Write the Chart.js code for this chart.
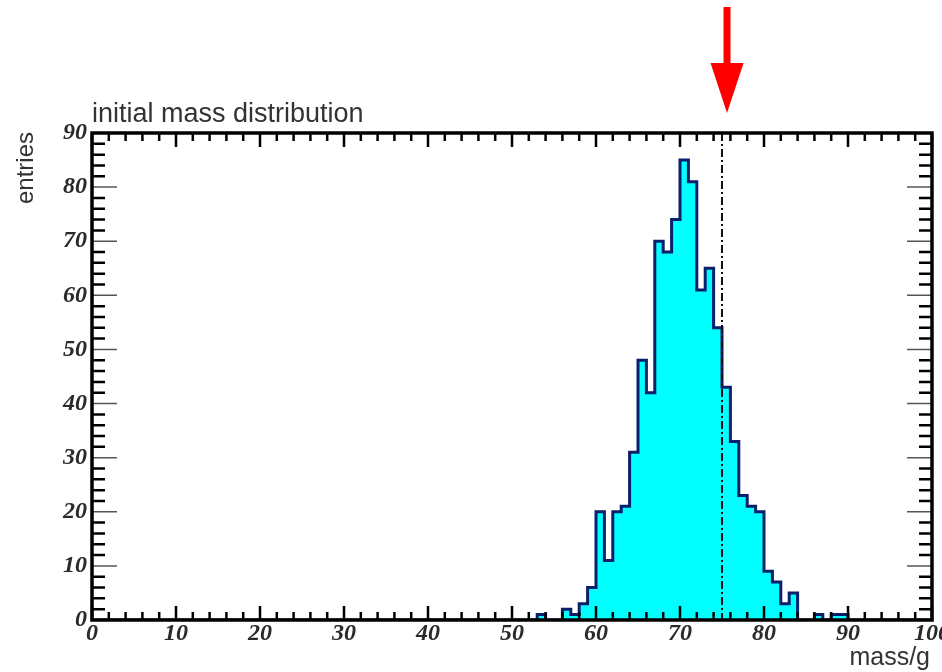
<!DOCTYPE html>
<html>
<head>
<meta charset="utf-8">
<script src="https://cdn.jsdelivr.net/npm/chart.js@4.4.1/dist/chart.umd.min.js"></script>
<style>
  body { margin: 0; background: #fff; }
  #wrap { width: 942px; height: 672px; }
</style>
</head>
<body>
<div id="wrap"><canvas id="mass-chart" width="942" height="672"></canvas></div>
<script>
// histogram bins (1 g wide, lower edge) and their entries
const massBins = [53, 54, 55, 56, 57, 58, 59, 60, 61, 62, 63, 64, 65, 66, 67, 68, 69, 70, 71, 72, 73, 74, 75, 76, 77, 78, 79, 80, 81, 82, 83, 84, 85, 86, 87, 88, 89];
const entries  = [ 1,  0,  0,  2,  1,  3,  6, 20, 11, 20, 21, 31, 48, 42, 70, 68, 74, 85, 81, 61, 65, 54, 43, 33, 23, 21, 20,  9,  7,  3,  5,  0,  0,  1,  0,  1,  1];

const xTicks = [0, 10, 20, 30, 40, 50, 60, 70, 80, 90, 100];
const yTicks = [0, 10, 20, 30, 40, 50, 60, 70, 80, 90];
const markerMass = 75;   // dash-dotted line
const arrowMass = 75.6;  // red arrow above the frame

const titleText = 'initial mass distribution';
const xTitle = 'mass/g';
const yTitle = 'entries';

// stepped outline points: left edge of each bin
const points = [{ x: 0, y: 0 }];
massBins.forEach((b, i) => points.push({ x: b, y: entries[i] }));
points.push({ x: massBins[massBins.length - 1] + 1, y: 0 });
points.push({ x: 100, y: 0 });

const rootFrame = {
    id: 'rootFrame',
    afterDatasetsDraw(chart) {
        const { ctx, chartArea: a, scales: { x, y } } = chart;
        ctx.save();

        // dash-dotted marker line
        const mx = x.getPixelForValue(markerMass);
        ctx.strokeStyle = '#111';
        ctx.lineWidth = 2;
        ctx.setLineDash([8, 3, 2, 3]);
        ctx.beginPath();
        ctx.moveTo(mx, a.top);
        ctx.lineTo(mx, a.bottom);
        ctx.stroke();
        ctx.setLineDash([]);

        // ticks, inside on all four sides
        ctx.strokeStyle = '#000';
        for (let v = 0; v <= 100; v += 2) {
            const px = x.getPixelForValue(v);
            const len = v % 10 === 0 ? 14 : 8;
            ctx.lineWidth = 2.5;
            ctx.beginPath();
            ctx.moveTo(px, a.bottom); ctx.lineTo(px, a.bottom - len);
            ctx.moveTo(px, a.top); ctx.lineTo(px, a.top + len);
            ctx.stroke();
        }
        for (let v = 0; v <= 90; v += 2) {
            const py = y.getPixelForValue(v);
            const major = v % 10 === 0;
            const len = major ? 25 : 13;
            ctx.lineWidth = major ? 1.5 : 2.5;
            ctx.strokeStyle = major ? '#555' : '#000';
            ctx.beginPath();
            ctx.moveTo(a.left, py); ctx.lineTo(a.left + len, py);
            ctx.moveTo(a.right, py); ctx.lineTo(a.right - len, py);
            ctx.stroke();
        }

        // frame
        ctx.strokeStyle = '#000';
        ctx.lineWidth = 3.5;
        ctx.strokeRect(a.left, a.top, a.right - a.left, a.bottom - a.top);

        // tick labels
        ctx.fillStyle = '#2a2a2a';
        ctx.font = 'italic bold 24px "Liberation Serif"';
        ctx.textAlign = 'center';
        ctx.textBaseline = 'top';
        xTicks.forEach(v => ctx.fillText(String(v), x.getPixelForValue(v), a.bottom + 2));
        ctx.textAlign = 'right';
        ctx.textBaseline = 'middle';
        yTicks.forEach(v => ctx.fillText(String(v), a.left - 5, y.getPixelForValue(v)));

        // titles
        ctx.fillStyle = '#333';
        ctx.font = '27px "Liberation Sans"';
        ctx.textAlign = 'left';
        ctx.textBaseline = 'alphabetic';
        ctx.fillText(titleText, a.left, a.top - 11);

        ctx.font = '25px "Liberation Sans"';
        ctx.textAlign = 'right';
        ctx.fillText(xTitle, a.right - 2, a.bottom + 45);

        ctx.save();
        ctx.translate(33, a.top + 35);
        ctx.rotate(-Math.PI / 2);
        ctx.textAlign = 'center';
        ctx.font = '24px "Liberation Sans"';
        ctx.fillText(yTitle, 0, 0);
        ctx.restore();

        // red arrow
        const ax = x.getPixelForValue(arrowMass);
        const tip = a.top - 20;
        ctx.fillStyle = '#ff0000';
        ctx.fillRect(ax - 3.5, 7, 7, tip - 50 - 7 + 1);
        ctx.beginPath();
        ctx.moveTo(ax - 16.5, tip - 50);
        ctx.lineTo(ax + 16.5, tip - 50);
        ctx.lineTo(ax, tip);
        ctx.closePath();
        ctx.fill();

        ctx.restore();
    }
};

new Chart(document.getElementById('mass-chart').getContext('2d'), {
    type: 'line',
    data: {
        datasets: [{
            data: points,
            stepped: 'before',
            borderColor: '#0b1f6b',
            borderWidth: 3,
            backgroundColor: '#00ffff',
            fill: 'origin',
            pointRadius: 0
        }]
    },
    options: {
        responsive: false,
        animation: false,
        devicePixelRatio: 1,
        layout: { padding: { left: 92, right: 10, top: 133, bottom: 52 } },
        plugins: { legend: { display: false }, tooltip: { enabled: false } },
        scales: {
            x: { type: 'linear', min: 0, max: 100, display: false },
            y: { min: 0, max: 90, display: false }
        }
    },
    plugins: [rootFrame]
});
</script>
</body>
</html>
